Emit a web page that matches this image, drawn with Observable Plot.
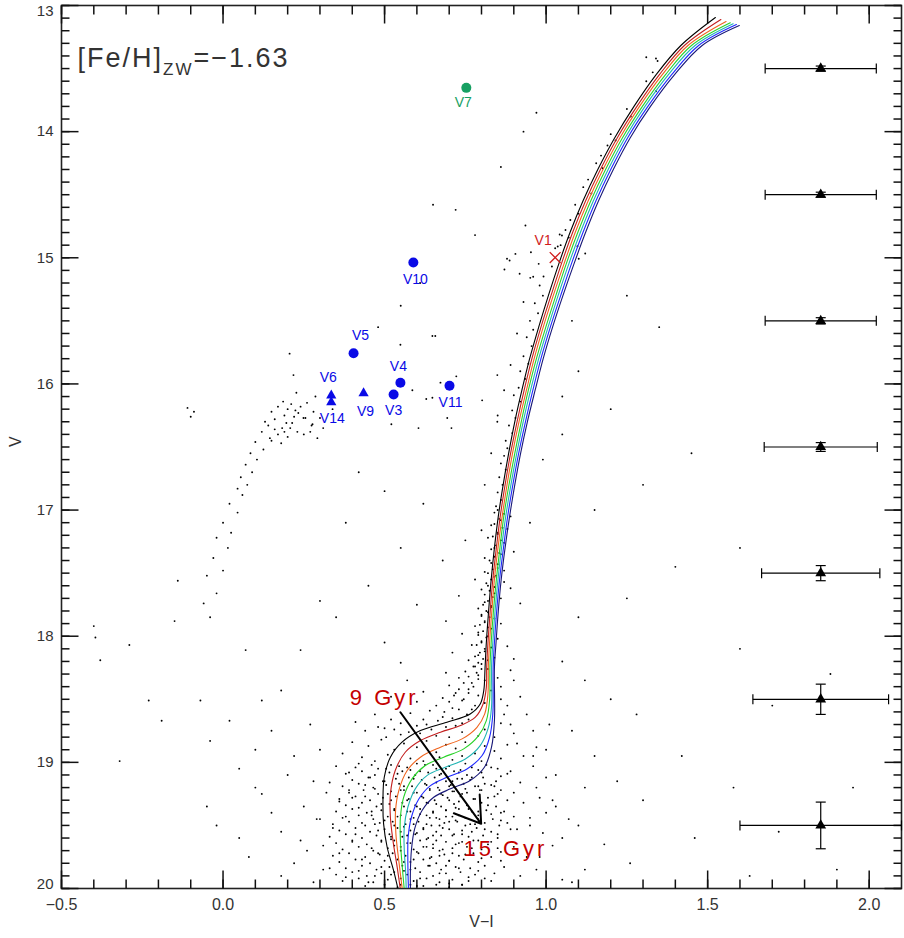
<!DOCTYPE html>
<html><head><meta charset="utf-8">
<script src="https://cdn.jsdelivr.net/npm/d3@7"></script>
<script src="https://cdn.jsdelivr.net/npm/@observablehq/plot@0.6"></script>
<style>
body{margin:0;background:#fff;}
#chart svg{display:block;}
</style></head><body><div id="chart"></div>
<script>
// ---------- data ----------
const ages = [9,10,11,12,13,14,15];
const isoColors = ["#000000","#c21e1e","#f0641e","#28d228","#20b4b4","#1e28ff","#181878"];
const iso9  = [[1.524,13.095],[1.417,13.317],[1.340,13.55],[1.272,13.80],[1.212,14.05],[1.160,14.30],[1.114,14.55],[1.074,14.80],[1.039,15.05],[1.007,15.30],[0.977,15.55],[0.949,15.80],[0.925,16.05],[0.903,16.30],[0.884,16.55],[0.867,16.80],[0.852,17.05],[0.840,17.30],[0.830,17.55],[0.822,17.80],[0.815,18.05],[0.811,18.25],[0.807,18.431],[0.796,18.537],[0.765,18.616],[0.693,18.682],[0.611,18.748],[0.554,18.840],[0.518,18.959],[0.499,19.118],[0.495,19.303],[0.497,19.488],[0.508,19.673],[0.528,19.858],[0.542,20.009]];
const iso10 = [[1.541,13.111],[1.428,13.317],[1.350,13.55],[1.281,13.80],[1.220,14.05],[1.168,14.30],[1.122,14.55],[1.082,14.80],[1.047,15.05],[1.015,15.30],[0.984,15.55],[0.956,15.80],[0.932,16.05],[0.910,16.30],[0.890,16.55],[0.873,16.80],[0.858,17.05],[0.846,17.30],[0.835,17.55],[0.827,17.80],[0.820,18.05],[0.816,18.25],[0.815,18.404],[0.805,18.537],[0.781,18.642],[0.735,18.708],[0.673,18.761],[0.611,18.827],[0.564,18.920],[0.533,19.065],[0.518,19.250],[0.518,19.435],[0.526,19.620],[0.539,19.831],[0.549,20.009]];
const iso11 = [[1.557,13.127],[1.439,13.317],[1.359,13.55],[1.289,13.80],[1.228,14.05],[1.176,14.30],[1.130,14.55],[1.090,14.80],[1.055,15.05],[1.022,15.30],[0.991,15.55],[0.963,15.80],[0.939,16.05],[0.916,16.30],[0.896,16.55],[0.879,16.80],[0.864,17.05],[0.851,17.30],[0.840,17.55],[0.832,17.80],[0.825,18.05],[0.821,18.25],[0.820,18.457],[0.810,18.616],[0.786,18.722],[0.740,18.814],[0.673,18.880],[0.611,18.959],[0.570,19.065],[0.544,19.224],[0.534,19.382],[0.535,19.567],[0.544,19.779],[0.555,20.009]];
const iso12 = [[1.570,13.137],[1.450,13.317],[1.369,13.55],[1.298,13.80],[1.236,14.05],[1.184,14.30],[1.138,14.55],[1.098,14.80],[1.062,15.05],[1.030,15.30],[0.999,15.55],[0.970,15.80],[0.945,16.05],[0.923,16.30],[0.903,16.55],[0.885,16.80],[0.869,17.05],[0.857,17.30],[0.846,17.55],[0.837,17.80],[0.830,18.05],[0.826,18.25],[0.825,18.510],[0.815,18.669],[0.791,18.788],[0.745,18.893],[0.683,18.959],[0.626,19.025],[0.585,19.131],[0.559,19.277],[0.549,19.435],[0.549,19.620],[0.554,19.805],[0.561,20.009]];
const iso13 = [[1.579,13.145],[1.461,13.317],[1.378,13.55],[1.306,13.80],[1.244,14.05],[1.192,14.30],[1.146,14.55],[1.106,14.80],[1.070,15.05],[1.037,15.30],[1.006,15.55],[0.977,15.80],[0.952,16.05],[0.929,16.30],[0.909,16.55],[0.891,16.80],[0.875,17.05],[0.862,17.30],[0.851,17.55],[0.842,17.80],[0.835,18.05],[0.831,18.25],[0.831,18.563],[0.820,18.735],[0.796,18.867],[0.750,18.973],[0.688,19.039],[0.631,19.105],[0.595,19.210],[0.572,19.356],[0.561,19.514],[0.561,19.699],[0.565,19.858],[0.567,20.009]];
const iso14 = [[1.589,13.151],[1.472,13.317],[1.388,13.55],[1.315,13.80],[1.252,14.05],[1.200,14.30],[1.154,14.55],[1.114,14.80],[1.078,15.05],[1.045,15.30],[1.013,15.55],[0.984,15.80],[0.959,16.05],[0.936,16.30],[0.915,16.55],[0.897,16.80],[0.881,17.05],[0.868,17.30],[0.856,17.55],[0.847,17.80],[0.840,18.05],[0.836,18.25],[0.835,18.616],[0.825,18.801],[0.802,18.946],[0.755,19.052],[0.693,19.118],[0.642,19.184],[0.606,19.290],[0.583,19.435],[0.573,19.594],[0.572,19.779],[0.574,20.009]];
const iso15 = [[1.598,13.159],[1.483,13.317],[1.397,13.55],[1.323,13.80],[1.260,14.05],[1.208,14.30],[1.162,14.55],[1.122,14.80],[1.086,15.05],[1.052,15.30],[1.020,15.55],[0.991,15.80],[0.966,16.05],[0.942,16.30],[0.921,16.55],[0.903,16.80],[0.887,17.05],[0.873,17.30],[0.861,17.55],[0.852,17.80],[0.845,18.05],[0.840,18.25],[0.840,18.669],[0.831,18.880],[0.809,19.039],[0.765,19.144],[0.704,19.210],[0.652,19.277],[0.616,19.382],[0.593,19.528],[0.583,19.699],[0.580,19.858],[0.580,20.009]];
const isochrones = [iso9, iso10, iso11, iso12, iso13, iso14, iso15];

// photometry (V-I, V) as flattened pairs
const starsMS = [
0.47,18.62,0.52,18.66,0.58,18.61,0.63,18.70,0.68,18.64,0.72,18.71,0.76,18.66,0.81,18.74,0.86,18.69,0.44,18.75,0.55,18.78,0.61,18.77,0.66,18.79,0.70,18.80,0.74,18.76,0.79,18.79,0.84,18.80,0.90,18.77,0.41,18.68,0.50,18.73,
0.40,18.84,0.45,18.87,0.49,18.82,0.53,18.90,0.56,18.85,0.60,18.88,0.63,18.83,0.66,18.92,0.69,18.86,0.72,18.89,0.75,18.84,0.78,18.93,0.81,18.87,0.84,18.91,0.88,18.86,0.93,18.95,0.37,18.93,0.43,18.96,0.47,18.99,0.51,18.94,0.58,18.97,0.62,18.99,0.67,18.96,0.71,18.98,0.74,18.95,0.80,18.99,0.86,18.97,0.97,18.88,
0.35,19.03,0.39,19.08,0.42,19.01,0.45,19.12,0.48,19.05,0.50,19.15,0.52,19.02,0.54,19.09,0.57,19.04,0.59,19.13,0.61,19.07,0.63,19.18,0.65,19.02,0.67,19.10,0.69,19.05,0.71,19.15,0.73,19.08,0.75,19.01,0.77,19.12,0.79,19.06,0.81,19.17,0.83,19.04,0.86,19.11,0.89,19.07,0.92,19.16,0.96,19.03,0.44,19.18,0.56,19.19,0.66,19.16,0.70,19.19,0.78,19.19,0.84,19.19,0.33,19.16,0.60,19.01,0.74,19.13,1.00,19.12,
0.32,19.24,0.36,19.31,0.39,19.22,0.42,19.36,0.44,19.27,0.47,19.21,0.49,19.33,0.51,19.25,0.53,19.38,0.55,19.22,0.57,19.30,0.59,19.24,0.60,19.35,0.62,19.28,0.64,19.21,0.66,19.33,0.68,19.26,0.69,19.38,0.71,19.23,0.73,19.31,0.74,19.25,0.76,19.37,0.78,19.29,0.80,19.22,0.82,19.34,0.84,19.27,0.87,19.39,0.90,19.24,0.93,19.32,0.98,19.28,0.46,19.39,0.58,19.39,0.65,19.39,0.72,19.36,0.79,19.39,0.63,19.32,0.70,19.30,0.52,19.30,0.40,19.28,0.86,19.22,0.75,19.21,0.67,19.22,0.56,19.35,1.03,19.35,
0.30,19.45,0.34,19.52,0.38,19.43,0.41,19.57,0.43,19.48,0.46,19.42,0.48,19.54,0.50,19.46,0.52,19.59,0.54,19.43,0.56,19.51,0.58,19.45,0.60,19.56,0.61,19.41,0.63,19.49,0.65,19.58,0.66,19.44,0.68,19.52,0.70,19.47,0.71,19.58,0.73,19.42,0.75,19.50,0.77,19.55,0.79,19.45,0.81,19.53,0.83,19.41,0.85,19.57,0.88,19.48,0.91,19.53,0.95,19.44,0.99,19.56,0.55,19.55,0.62,19.53,0.69,19.43,0.74,19.57,0.67,19.50,0.59,19.49,0.47,19.49,0.78,19.49,0.57,19.58,0.72,19.46,0.64,19.44,0.53,19.50,0.86,19.46,
0.31,19.66,0.36,19.72,0.40,19.63,0.43,19.77,0.46,19.68,0.49,19.62,0.51,19.74,0.53,19.66,0.56,19.79,0.58,19.64,0.60,19.71,0.62,19.67,0.64,19.76,0.66,19.62,0.68,19.69,0.70,19.78,0.72,19.65,0.75,19.73,0.77,19.68,0.80,19.76,0.83,19.63,0.86,19.71,0.90,19.67,0.94,19.75,0.55,19.70,0.63,19.61,0.71,19.72,0.59,19.77,0.48,19.72,0.67,19.74,0.74,19.63,0.79,19.62,0.26,19.70,1.02,19.66,0.52,19.61,0.65,19.68,
0.33,19.84,0.38,19.91,0.42,19.86,0.45,19.95,0.49,19.83,0.52,19.89,0.55,19.97,0.58,19.85,0.61,19.92,0.64,19.82,0.67,19.88,0.70,19.96,0.73,19.84,0.76,19.91,0.79,19.86,0.83,19.94,0.87,19.83,0.92,19.90,0.97,19.85,0.60,19.98,0.69,19.82,0.47,19.90,0.56,19.86,0.74,19.97,1.05,19.93,0.28,19.95
];
const starsMS2 = [
0.41,19.04,0.46,19.02,0.505,19.05,0.545,19.03,0.58,19.06,0.625,19.02,0.66,19.05,0.70,19.03,0.735,19.06,0.77,19.04,0.815,19.02,0.85,19.05,
0.38,19.09,0.43,19.07,0.47,19.10,0.515,19.08,0.555,19.07,0.595,19.10,0.635,19.08,0.675,19.09,0.715,19.07,0.755,19.10,0.80,19.08,0.88,19.09,
0.40,19.14,0.455,19.12,0.495,19.15,0.535,19.13,0.575,19.12,0.615,19.14,0.655,19.12,0.69,19.15,0.725,19.13,0.765,19.14,0.805,19.12,0.845,19.15,
0.37,19.19,0.42,19.17,0.465,19.20,0.505,19.18,0.545,19.17,0.585,19.19,0.625,19.17,0.665,19.20,0.705,19.18,0.745,19.17,0.79,19.19,0.83,19.18,
0.39,19.24,0.435,19.22,0.48,19.25,0.52,19.23,0.56,19.22,0.60,19.24,0.64,19.22,0.675,19.25,0.715,19.23,0.755,19.24,0.795,19.22,0.85,19.25,
0.36,19.29,0.41,19.27,0.455,19.30,0.495,19.28,0.535,19.27,0.575,19.29,0.615,19.27,0.655,19.30,0.695,19.28,0.735,19.27,0.775,19.29,0.82,19.28,0.88,19.30,
0.38,19.34,0.43,19.32,0.475,19.35,0.515,19.33,0.555,19.32,0.595,19.34,0.635,19.32,0.675,19.35,0.715,19.33,0.755,19.34,0.80,19.32,0.845,19.35,
0.35,19.39,0.40,19.37,0.445,19.40,0.49,19.38,0.53,19.37,0.57,19.39,0.61,19.37,0.65,19.40,0.69,19.38,0.73,19.37,0.77,19.39,0.815,19.38,0.86,19.40,
0.37,19.44,0.42,19.42,0.465,19.45,0.51,19.43,0.55,19.42,0.59,19.44,0.63,19.42,0.67,19.45,0.71,19.43,0.75,19.44,0.79,19.42,0.835,19.45,0.90,19.43,
0.34,19.49,0.39,19.47,0.44,19.50,0.485,19.48,0.525,19.47,0.565,19.49,0.605,19.47,0.645,19.50,0.685,19.48,0.725,19.47,0.765,19.49,0.81,19.48,0.855,19.50,
0.36,19.54,0.41,19.52,0.455,19.55,0.50,19.53,0.54,19.52,0.58,19.54,0.62,19.52,0.66,19.55,0.70,19.53,0.74,19.54,0.785,19.52,0.83,19.55,0.89,19.53,
0.33,19.59,0.38,19.57,0.43,19.60,0.475,19.58,0.515,19.57,0.555,19.59,0.595,19.57,0.635,19.60,0.675,19.58,0.715,19.57,0.76,19.59,0.805,19.58,0.85,19.60,
0.35,19.64,0.40,19.62,0.445,19.65,0.49,19.63,0.53,19.62,0.57,19.64,0.61,19.62,0.65,19.65,0.69,19.63,0.73,19.64,0.775,19.62,0.82,19.65,
0.37,19.69,0.42,19.67,0.465,19.70,0.51,19.68,0.55,19.67,0.59,19.69,0.63,19.67,0.67,19.70,0.71,19.68,0.755,19.67,0.80,19.69,0.85,19.68,
0.34,19.74,0.39,19.72,0.44,19.75,0.485,19.73,0.525,19.72,0.565,19.74,0.605,19.72,0.645,19.75,0.685,19.73,0.73,19.74,0.775,19.72,0.83,19.75,
0.36,19.79,0.41,19.77,0.455,19.80,0.50,19.78,0.54,19.77,0.58,19.79,0.62,19.77,0.66,19.80,0.70,19.78,0.745,19.77,0.79,19.79,0.86,19.78,
0.38,19.84,0.43,19.82,0.475,19.85,0.515,19.83,0.555,19.82,0.595,19.84,0.635,19.82,0.675,19.85,0.72,19.83,0.765,19.84,0.81,19.82,
0.35,19.89,0.40,19.87,0.445,19.90,0.49,19.88,0.53,19.87,0.57,19.89,0.61,19.87,0.65,19.90,0.69,19.88,0.735,19.87,0.78,19.89,0.84,19.88,
0.37,19.94,0.42,19.92,0.465,19.95,0.51,19.93,0.55,19.92,0.59,19.94,0.63,19.92,0.67,19.95,0.71,19.93,0.76,19.94,0.81,19.92,
0.44,19.98,0.50,19.97,0.54,19.99,0.58,19.97,0.62,19.98,0.66,19.97,0.70,19.99,0.74,19.97
];
const starsSGB = [
0.84,17.02,0.86,17.08,0.83,17.12,0.88,17.15,0.85,17.19,0.82,17.22,0.87,17.26,0.84,17.30,0.86,17.35,0.81,17.38,0.89,17.05,0.80,17.16,0.90,17.33,0.75,17.24,0.95,17.10,
0.83,17.42,0.85,17.46,0.81,17.49,0.84,17.53,0.87,17.57,0.82,17.60,0.80,17.63,0.84,17.66,0.86,17.70,0.81,17.73,0.83,17.76,0.78,17.55,0.89,17.62,0.79,17.78,0.87,17.48,0.73,17.68,0.92,17.74,
0.82,17.81,0.80,17.84,0.84,17.86,0.81,17.89,0.78,17.92,0.83,17.94,0.79,17.97,0.82,18.00,0.85,18.02,0.80,18.05,0.77,18.07,0.83,18.09,0.81,18.12,0.79,18.15,0.84,18.17,0.76,18.19,0.86,17.90,0.74,17.98,0.88,18.08,0.71,18.13,0.82,18.19,0.69,17.88,0.90,18.18,
0.80,18.22,0.78,18.24,0.82,18.26,0.75,18.28,0.79,18.31,0.73,18.33,0.81,18.35,0.77,18.37,0.70,18.39,0.76,18.42,0.83,18.43,0.72,18.45,0.79,18.47,0.68,18.49,0.74,18.51,0.81,18.53,0.66,18.55,0.71,18.57,0.77,18.58,0.64,18.59,0.85,18.33,0.86,18.50,0.62,18.44,0.60,18.52,0.89,18.27,0.69,18.29,0.57,18.35,0.55,18.21,0.52,18.48,
0.85,17.00,0.87,17.03,0.855,17.07,0.84,17.11,0.865,17.14,0.85,17.18,0.835,17.21,0.86,17.24,0.845,17.28,0.83,17.31,0.855,17.34,0.84,17.37,0.825,17.40,0.85,17.43,0.835,17.47,0.82,17.50,0.845,17.52,0.83,17.55,0.815,17.58,0.84,17.61,0.825,17.64,0.81,17.67,0.835,17.69,0.82,17.72,0.805,17.75,0.83,17.77,0.815,17.80,0.80,17.83,0.825,17.85,0.81,17.88,0.795,17.91,0.82,17.93,0.805,17.96,0.79,17.99,0.815,18.01,0.80,18.04,0.785,18.07,0.81,18.10,0.795,18.13,0.78,18.16,0.805,18.18,0.79,18.21,0.775,18.24,0.80,18.26,0.785,18.29,0.76,18.32,0.79,18.34,0.745,18.37,0.775,18.40,0.73,18.42,0.76,18.45,0.715,18.47,0.745,18.50,0.70,18.52,0.78,18.55,0.73,18.58,0.685,18.60,0.755,18.62,0.71,18.65,0.665,18.67,0.74,18.69,0.69,18.72,0.645,18.74,0.62,18.66,0.60,18.71,0.575,18.76,0.55,18.69,0.53,18.74,0.505,18.80,0.48,18.72,0.86,18.40,0.88,18.55,0.90,18.35,0.87,18.62,0.92,18.48,0.89,18.70,0.94,18.62,0.91,18.85,0.96,18.75
];
const starsRGB = [
1.31,13.41,1.34,13.42,1.345,13.44,1.33,13.53,1.31,13.60,1.34,13.68,1.25,13.82,1.262,13.88,1.20,14.02,1.215,14.07,1.19,14.11,1.17,14.19,1.155,14.25,1.175,14.29,1.13,14.38,1.115,14.44,1.14,14.49,1.09,14.58,1.10,14.65,1.075,14.70,1.06,14.78,1.07,14.84,1.045,14.90,
0.936,14.744,1.042,14.815,1.049,14.823,1.036,14.911,1.028,14.924,0.905,14.969,0.953,14.956,0.879,15.008,0.887,15.022,0.977,15.048,1.018,15.069,0.918,15.127,0.871,15.093,1.097,14.908,1.121,14.966,1.101,15.008,0.992,15.148,0.951,15.159,
0.98,15.22,0.99,15.30,0.965,15.36,0.975,15.44,0.95,15.50,0.96,15.57,0.94,15.63,0.955,15.70,0.93,15.78,0.945,15.84,0.92,15.90,0.935,15.96,0.915,16.03,0.90,16.09,0.92,16.14,0.895,16.21,0.905,16.27,0.885,16.33,0.895,16.39,0.875,16.45,0.88,16.51,0.87,16.57,0.86,16.63,0.875,16.68,0.855,16.74,0.865,16.80,0.85,16.86,0.86,16.92,0.845,16.97,
0.93,15.35,0.91,15.60,0.89,15.85,0.87,16.05,0.85,16.25,0.83,16.55,0.81,16.80,0.96,15.15,1.08,15.50,1.05,16.10,0.99,16.60
];
const starsHB = [
0.206,15.76,0.218,15.93,0.227,16.07,0.286,16.10,0.186,16.14,0.211,16.16,0.224,16.21,0.233,16.23,0.255,16.27,0.190,16.25,0.196,16.31,0.214,16.31,0.183,16.35,0.208,16.35,0.277,16.32,0.292,16.43,0.339,16.20,0.274,16.33,0.249,16.27,
0.17,16.18,0.15,16.22,0.16,16.28,0.14,16.33,0.12,16.38,0.145,16.43,0.10,16.46,0.125,16.52,0.085,16.55,0.105,16.60,0.07,16.64,0.09,16.70,0.055,16.74,0.075,16.80,0.045,16.83,0.17,16.40,0.15,16.45,0.19,16.38,0.20,16.42,0.18,16.47,0.23,16.38,0.25,16.40,
0.26,16.15,0.24,16.18,0.28,16.22,0.30,16.27,0.22,16.26,0.20,16.20,0.27,16.38,0.31,16.35,0.16,16.36,0.13,16.30,
0.06,16.88,0.02,16.95,0.045,17.02,0.00,17.10,0.025,17.18,-0.02,17.22,0.015,17.30,-0.03,17.38,0.00,17.48,-0.05,17.52,-0.02,17.66,-0.06,17.74,-0.04,17.85,
-0.11,16.19,-0.09,16.22,-0.10,16.26
];
const starsField = [
0.65,14.58,0.72,14.62,0.78,14.82,0.61,15.20,0.55,15.38,0.48,15.55,0.86,14.28,0.93,14.00,0.97,13.85,0.549,15.69,0.648,15.62,0.657,15.62,0.586,16.05,0.629,16.12,0.648,16.11,0.673,15.99,0.722,15.94,0.802,16.13,0.849,15.93,0.849,16.30,0.694,16.27,0.707,16.35,0.605,16.35,0.521,16.32,
0.42,16.70,0.50,16.85,0.62,16.95,0.38,17.10,0.55,17.30,0.68,17.40,0.45,17.60,0.60,17.75,0.35,17.85,0.50,18.05,0.30,17.72,0.24,18.11,0.18,18.43,0.12,18.51,0.07,18.11,0.02,18.67,-0.04,18.83,-0.07,18.51,-0.32,18.99,-0.19,18.67,-0.23,18.51,-0.15,17.88,-0.14,17.56,-0.38,18.19,-0.29,18.07,-0.395,18.01,-0.40,17.92,0.10,18.90,0.20,19.10,0.15,19.40,0.05,19.60,0.22,19.80,0.10,19.20,-0.05,19.35,
0.05,19.05,0.12,19.25,0.18,19.55,0.25,19.35,0.28,19.15,0.22,18.95,0.15,18.75,0.27,18.70,0.30,18.90,0.24,19.62,0.08,19.75,0.18,19.90,-0.02,19.50,0.29,19.45,0.31,19.85,
1.25,15.30,1.35,15.55,1.10,15.90,1.20,16.20,1.05,16.40,1.30,16.80,1.45,16.55,1.15,17.00,1.60,17.30,1.40,17.45,1.25,17.70,1.10,17.85,
1.05,18.20,1.12,18.35,1.20,18.50,1.28,18.62,1.42,18.95,1.58,19.20,1.72,19.55,1.90,19.85,1.08,18.75,1.15,18.95,1.22,19.15,1.30,19.30,1.46,19.60,1.63,19.90,1.02,19.30,1.10,19.50,1.18,19.65,1.26,19.80,1.70,18.55,1.95,19.20,1.88,18.30,1.60,18.10,1.00,18.90,1.05,19.60,1.12,19.85,
0.95,19.50,0.98,19.75,1.00,19.40,1.03,19.10,0.97,19.20,1.07,19.45,1.12,19.20,0.96,18.95,1.01,18.70,1.08,19.95
];

// variable stars
const varNames = ["V7","V10","V5","V4","V3","V11","V6","V14","V9","V1"];
const varColor = [0.753,0.589,0.404,0.549,0.528,0.701,0.335,0.335,0.435,1.028];
const varMag   = [13.653,15.037,15.757,15.991,16.084,16.015,16.092,16.145,16.074,14.998];
const varType  = ["circle","circle","circle","circle","circle","circle","triangle","triangle","triangle","times"];
const varGroup = ["green","blue","blue","blue","blue","blue","blue","blue","blue","red"];

// photometric error bars
const errMag = [13.5,14.5,15.5,16.5,17.5,18.5,19.5];
const errColorPos = [1.85,1.85,1.85,1.85,1.85,1.85,1.85];
const errSigColor = [0.172,0.172,0.172,0.175,0.183,0.21,0.25];
const errSigMag = [0.02,0.02,0.025,0.035,0.06,0.12,0.185];

const metallicity = ["[Fe/H]", "ZW", "=\u22121.63"];
const ageArrow = {x1: 0.549, y1: 18.603, x2: 0.799, y2: 19.487};
const ageLabels = [{t:"9 Gyr", x:0.499, v:18.49}, {t:"15 Gyr", x:0.874, v:19.69}];

const xDomain = [-0.5, 2.1];
const yDomain = [13, 20];
const xMajor = [-0.5,0,0.5,1,1.5,2];
const xMinor = d3.range(-5,21).map(d=>d/10);
const yMajor = [13,14,15,16,17,18,19,20];
const yMinor = d3.range(130,201).map(d=>d/10);

// ---------- build ----------
const W = 904, H = 938, ML = 61, MR = 3, MT = 5, MB = 50;
const FW = W - ML - MR, FH = H - MT - MB;
const kx = (xDomain[1]-xDomain[0]) / FW;
const ky = (yDomain[1]-yDomain[0]) / FH;
const pairs = a => d3.range(0, a.length, 2).map(i => ({x:a[i], v:a[i+1]}));
const starRows = pairs([...starsMS, ...starsMS2, ...starsSGB, ...starsRGB, ...starsHB, ...starsField]);
const isoRows = isochrones.flatMap((pts,i) => pts.map(([x,v]) => ({age: ages[i], x, v})));
const vars = varNames.map((n,i)=>({name:n, x:varColor[i], v:varMag[i], type:varType[i], group:varGroup[i]}));
const errs = errMag.map((v,i)=>({x:errColorPos[i], v, sx:errSigColor[i], sv:errSigMag[i]}));
const groupColor = {green:"#17a062", blue:"#0a0ae6", red:"#d01c1c"};
const labelOffset = {V7:[-3,15],V10:[2,17],V5:[7,-18],V4:[-2,-16],V3:[0,16],V11:[1,17],V6:[-3,-18],V14:[1,16],V9:[2,18],V1:[-12,-17]};

const vline = {draw(ctx, size){const h=Math.sqrt(size/Math.PI); ctx.moveTo(0,-h); ctx.lineTo(0,h);}};
const hline = {draw(ctx, size){const h=Math.sqrt(size/Math.PI); ctx.moveTo(-h,0); ctx.lineTo(h,0);}};

const font = "Liberation Sans, Arial, Helvetica, sans-serif";
const tickStyle = {stroke: "#111", strokeWidth: 1.5};
const tickRows = [];
xMinor.forEach(x => tickRows.push({x1:x, x2:x, y1:yDomain[1], y2:yDomain[1]-9*ky}, {x1:x, x2:x, y1:yDomain[0], y2:yDomain[0]+9*ky}));
xMajor.forEach(x => tickRows.push({x1:x, x2:x, y1:yDomain[1], y2:yDomain[1]-18*ky}, {x1:x, x2:x, y1:yDomain[0], y2:yDomain[0]+18*ky}));
yMinor.forEach(y => tickRows.push({x1:xDomain[0], x2:xDomain[0]+8*kx, y1:y, y2:y}, {x1:xDomain[1], x2:xDomain[1]-8*kx, y1:y, y2:y}));
yMajor.forEach(y => tickRows.push({x1:xDomain[0], x2:xDomain[0]+17*kx, y1:y, y2:y}, {x1:xDomain[1], x2:xDomain[1]-17*kx, y1:y, y2:y}));

const marks = [
  // frame + inward ticks (links through the scales, like the error bars)
  Plot.frame({stroke: "#222", strokeWidth: 1.6}),
  Plot.link(tickRows, {x1:"x1", x2:"x2", y1:"y1", y2:"y2", ...tickStyle}),
  // stars
  Plot.dot(starRows, {x:"x", y:"v", r:0.95, fill:"black", stroke:null}),
  // isochrones
  Plot.line(isoRows, {x:"x", y:"v", z:"age", stroke:"age", curve:"catmull-rom", strokeWidth:1.1, clip:true}),
  // age arrow
  Plot.arrow([ageArrow], {x1:"x1", y1:"y1", x2:"x2", y2:"y2", stroke:"black", strokeWidth:2, headLength:22, headAngle:66}),
  Plot.text(ageLabels, {x:"x", y:"v", text:"t", fill:"#c40000", fontSize:22}),
  // variable stars
  ...["green","blue"].map(g => Plot.dot(vars.filter(d=>d.group===g && d.type==="circle"), {x:"x", y:"v", symbol:"circle", r:5, fill:groupColor[g], stroke:null})),
  Plot.dot(vars.filter(d=>d.type==="triangle"), {x:"x", y:"v", symbol:"triangle", r:3.8, fill:groupColor.blue, stroke:null}),
  Plot.dot(vars.filter(d=>d.type==="times"), {x:"x", y:"v", symbol:"times", r:5, stroke:groupColor.red, strokeWidth:1.3}),
  ...vars.map(d => Plot.text([d], {x:"x", y:"v", text:"name", dx:labelOffset[d.name][0], dy:labelOffset[d.name][1], fontSize:14, fill:groupColor[d.group]})),
  // error bars
  Plot.link(errs, {x1:d=>d.x-d.sx, x2:d=>d.x+d.sx, y1:"v", y2:"v", stroke:"black", strokeWidth:1.2}),
  Plot.link(errs, {x1:"x", x2:"x", y1:d=>d.v-d.sv, y2:d=>d.v+d.sv, stroke:"black", strokeWidth:1.2}),
  Plot.dot(errs, {x:d=>d.x-d.sx, y:"v", symbol:vline, r:5, stroke:"black", strokeWidth:1.2, fill:"none"}),
  Plot.dot(errs, {x:d=>d.x+d.sx, y:"v", symbol:vline, r:5, stroke:"black", strokeWidth:1.2, fill:"none"}),
  Plot.dot(errs, {x:"x", y:d=>d.v-d.sv, symbol:hline, r:5, stroke:"black", strokeWidth:1.2, fill:"none"}),
  Plot.dot(errs, {x:"x", y:d=>d.v+d.sv, symbol:hline, r:5, stroke:"black", strokeWidth:1.2, fill:"none"}),
  Plot.dot(errs, {x:"x", y:"v", symbol:"triangle", r:4, fill:"black", stroke:null}),
  // metallicity label
  Plot.text([metallicity.join("")], {frameAnchor:"top-left", dx:16, dy:53, text:d=>d, textAnchor:"start", lineAnchor:"middle", fontSize:27, fill:"#333"}),
  // tick labels
  Plot.axisX(xMajor, {anchor:"bottom", tickSize:0, tickPadding:10, tickFormat: d3.format(".1f"), label:null, fontSize:16, fill:"#333"}),
  Plot.text(yMajor.filter(d=>d>13 && d<20), {y:d=>d, frameAnchor:"left", dx:-8, textAnchor:"end", text:d=>String(d), fontSize:15, fill:"#333"}),
  Plot.text([13], {y:d=>d, frameAnchor:"left", dx:-8, textAnchor:"end", lineAnchor:"top", text:d=>String(d), fontSize:15, fill:"#333"}),
  Plot.text([20], {y:d=>d, frameAnchor:"left", dx:-8, textAnchor:"end", lineAnchor:"bottom", text:d=>String(d), fontSize:15, fill:"#333"}),
  // axis titles
  Plot.text(["V\u2212I"], {frameAnchor:"bottom", dy:38, text:d=>d, fontSize:16, fill:"#333"}),
  Plot.text(["V"], {frameAnchor:"left", dx:-46, rotate:-90, text:d=>d, fontSize:16, fill:"#333"})
];

const chart = Plot.plot({
  width: W, height: H,
  marginLeft: ML, marginRight: MR, marginTop: MT, marginBottom: MB,
  style: {fontFamily: font},
  x: {domain: xDomain},
  y: {domain: yDomain, reverse:true, axis:null},
  color: {type:"ordinal", domain: ages, range: isoColors},
  marks
});

// letter spacing and subscript for the annotation texts
chart.querySelectorAll("text").forEach(t => {
  const s = t.textContent;
  if (s === "9 Gyr" || s === "15 Gyr") t.setAttribute("letter-spacing", "3");
  if (s === metallicity.join("")) {
    t.textContent = "";
    t.setAttribute("letter-spacing", "2");
    const ns = "http://www.w3.org/2000/svg";
    const a = document.createElementNS(ns,"tspan"); a.textContent = metallicity[0];
    const b = document.createElementNS(ns,"tspan"); b.textContent = metallicity[1]; b.setAttribute("font-size","17"); b.setAttribute("dy","8");
    const c = document.createElementNS(ns,"tspan"); c.textContent = metallicity[2]; c.setAttribute("dy","-8");
    t.append(a,b,c);
  }
});
document.getElementById("chart").append(chart);
</script></body></html>
